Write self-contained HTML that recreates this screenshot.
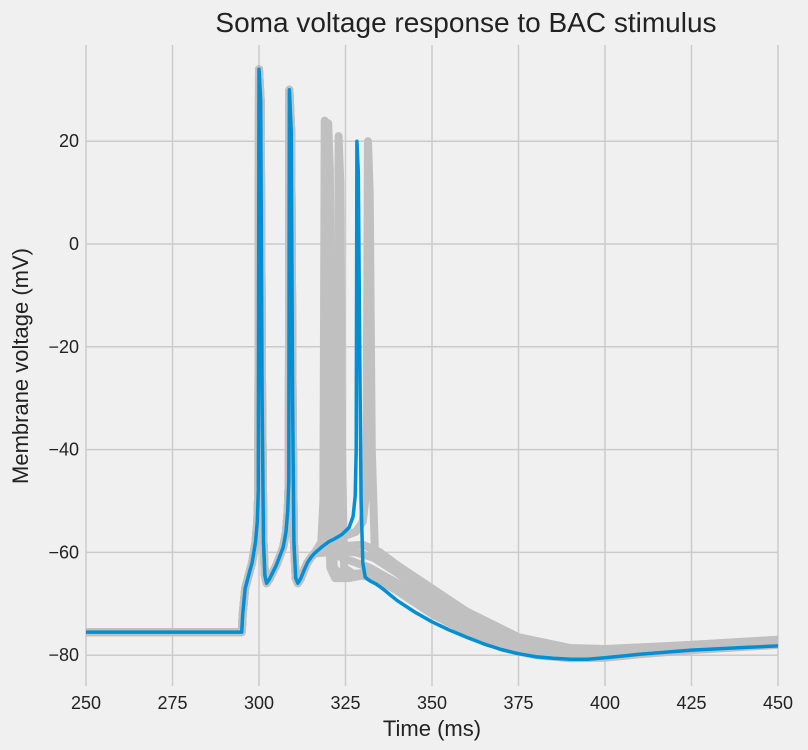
<!DOCTYPE html>
<html><head><meta charset="utf-8"><style>
body{margin:0;background:#f0f0f0;}
svg{display:block;font-family:"Liberation Sans","DejaVu Sans",sans-serif;}
</style></head><body>
<svg id="chart" width="808" height="750">
<defs><clipPath id="plotclip"><rect x="86" y="40" width="692" height="650"/></clipPath></defs>
<rect width="808" height="750" fill="#f0f0f0"/>
<g id="grid"></g>
<g id="traces" clip-path="url(#plotclip)"></g>
<g id="ticks"></g>
<text x="466" y="32" text-anchor="middle" font-size="28" fill="#222">Soma voltage response to BAC stimulus</text>
<text x="432" y="736" text-anchor="middle" font-size="22" fill="#222">Time (ms)</text>
<text transform="translate(28,366) rotate(-90)" text-anchor="middle" font-size="22" fill="#222">Membrane voltage (mV)</text>
</svg>
<script>
const xTicks=[250,275,300,325,350,375,400,425,450];
const yTicks=[20,0,-20,-40,-60,-80];
const yTickLabels=["20","0","\u221220","\u221240","\u221260","\u221280"];
const pre=[[250,-75.5],[295,-75.5],[295.3,-72],[296,-67],[297,-64.5],[298,-62],[299,-58],[299.5,-54],[299.8,-48],[300,34],[300.5,28],[300.9,-30],[301.3,-58],[301.7,-64.5],[302.2,-66],[303,-65.2],[305,-62.5],[307,-59],[307.8,-56],[308.3,-52],[308.6,-46],[308.8,30],[309.3,22],[309.7,-30],[310.1,-58],[310.6,-65],[311.2,-66],[312,-65.2],[313,-63.5],[314,-62],[315,-61],[316,-60.2]];
const grayG1=[[318,-58],[318.6,-50],[319,24],[319.5,15],[320,-40],[320.6,-63],[322,-65],[326,-65],[330,-64.5],[335,-65.5],[340,-67.5],[350,-72],[360,-75.5],[370,-78.5],[380,-80],[390,-80.6],[400,-80.5],[410,-79.8],[425,-79],[450,-78]];
const grayG2=[[319,-57.5],[319.6,-50],[320,23.5],[320.5,14],[321,-40],[321.6,-63],[324,-64.5],[330,-64],[335,-64.5],[340,-66.5],[350,-71],[360,-74.5],[370,-77.5],[380,-79.3],[390,-79.9],[400,-79.8],[425,-78.5],[450,-77.5]];
const grayG3=[[320,-58],[322,-57],[322.6,-50],[323,21],[323.5,12],[324,-40],[324.6,-63],[328,-64.5],[333,-64],[340,-66],[350,-70],[360,-74],[370,-77],[380,-79],[390,-79.8],[400,-79.8],[425,-78.5],[450,-77.5]];
const grayG4=[[320,-58],[324,-57],[328,-56],[330,-54],[331,-48],[331.5,20],[332,10],[332.6,-40],[333.5,-60],[336,-62],[340,-64],[350,-68.5],[360,-72.5],[370,-76],[380,-78.5],[390,-79.2],[400,-79],[425,-78],[450,-77]];
const grayG5=[[320,-59],[330,-58.5],[335,-60],[340,-62.5],[350,-67],[360,-71.5],[375,-76.5],[390,-78.6],[400,-78.8],[425,-78],[450,-77]];
const grayG6=[[320,-59.5],[328,-60],[333,-61],[340,-64],[350,-69],[360,-73],[375,-77.5],[390,-79.3],[400,-79.3],[425,-78.3],[450,-77.3]];
const grayG7=[[320,-60],[326,-61.5],[332,-63],[340,-66],[350,-70.5],[360,-74.5],[375,-78.5],[390,-80],[400,-80],[425,-78.8],[450,-77.8]];
const blueTail=[[318,-59],[320,-58],[322,-57.3],[324,-56.5],[326,-55.2],[327.2,-53],[327.8,-49],[328.1,-40],[328.3,20],[328.7,14],[329.1,-20],[329.5,-50],[330,-62],[330.7,-64.8],[332,-65.5],[334,-66.2],[336,-67.2],[338,-68.3],[340,-69.4],[345,-71.6],[350,-73.5],[355,-75.1],[360,-76.5],[365,-77.8],[370,-78.9],[375,-79.7],[380,-80.3],[385,-80.6],[390,-80.8],[395,-80.8],[400,-80.5],[410,-79.8],[425,-79],[440,-78.5],[450,-78.2]];
const X0=86,X1=778,XMIN=250,XMAX=450;
const sx=t=>X0+(t-XMIN)/(XMAX-XMIN)*(X1-X0);
const sy=v=>244-v*5.14;
const NS="http://www.w3.org/2000/svg";
const grid=document.getElementById('grid'),tk=document.getElementById('ticks'),tr=document.getElementById('traces');
xTicks.forEach(t=>{
 const l=document.createElementNS(NS,'line');
 l.setAttribute('x1',sx(t));l.setAttribute('x2',sx(t));l.setAttribute('y1',45);l.setAttribute('y2',686);
 l.setAttribute('stroke','#cbcbcb');l.setAttribute('stroke-width','1.5');
 
 
 grid.appendChild(l);
 const s=document.createElementNS(NS,'text');
 s.setAttribute('x',sx(t));s.setAttribute('y',709);s.setAttribute('text-anchor','middle');s.setAttribute('font-size','18');s.setAttribute('fill','#222');
 s.textContent=t;
 
 
 tk.appendChild(s);
});
yTicks.forEach((v,i)=>{
 const l=document.createElementNS(NS,'line');
 l.setAttribute('x1',X0);l.setAttribute('x2',X1);l.setAttribute('y1',sy(v));l.setAttribute('y2',sy(v));
 l.setAttribute('stroke','#cbcbcb');l.setAttribute('stroke-width','1.5');
 
 
 grid.appendChild(l);
 const s=document.createElementNS(NS,'text');
 s.setAttribute('x',79);s.setAttribute('y',sy(v)+6);s.setAttribute('text-anchor','end');s.setAttribute('font-size','18');s.setAttribute('fill','#222');
 s.textContent=yTickLabels[i];
 
 
 tk.appendChild(s);
});
function draw(pts,color,w,name){
 const p=document.createElementNS(NS,'path');
 p.setAttribute('d',pts.map((q,i)=>(i?'L':'M')+sx(q[0]).toFixed(1)+','+sy(q[1]).toFixed(1)).join(''));
 p.setAttribute('fill','none');p.setAttribute('stroke',color);p.setAttribute('stroke-width',w);p.setAttribute('stroke-linejoin','round');p.setAttribute('stroke-linecap','round');
 
 
 tr.appendChild(p);
}
[grayG1,grayG2,grayG3,grayG4,grayG5,grayG6,grayG7].forEach((g,i)=>draw(pre.concat(g),'#c0c0c0',8,'gray-trace-'+(i+1)));
draw(pre.concat(blueTail),'#008fd5',3.5,'blue-trace');
</script>
</body></html>
